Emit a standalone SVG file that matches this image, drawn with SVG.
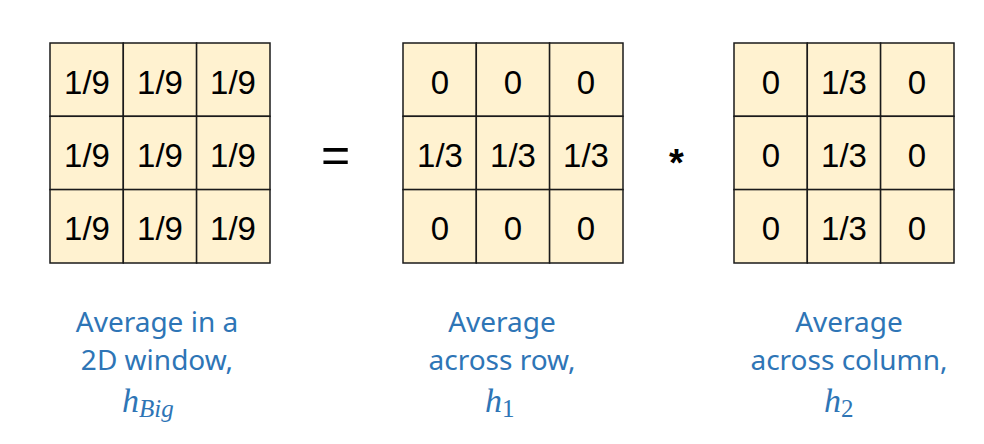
<svg xmlns="http://www.w3.org/2000/svg" width="984" height="444" viewBox="0 0 984 444">
<style>
.cell{fill:#FFF2D0;stroke:#1a1a1a;stroke-width:1.5}
.v{font-family:"Liberation Sans",Arial,sans-serif;font-size:33px;fill:#000;text-anchor:middle}
.lbl{font-family:"Noto Sans","Open Sans",sans-serif;font-size:28px;fill:#2E75B6;text-anchor:middle}
.m{font-family:"Liberation Serif","DejaVu Serif",serif;font-style:italic;font-size:34px;fill:#2E75B6}
.ms{font-family:"Liberation Serif","DejaVu Serif",serif;font-style:italic;font-size:25px;fill:#2E75B6}
.mn{font-family:"Liberation Serif","DejaVu Serif",serif;font-size:25px;fill:#2E75B6}
.op{font-family:"Liberation Sans",Arial,sans-serif;fill:#000;text-anchor:middle}
</style>
<rect width="984" height="444" fill="#fff"/>
<g id="hbig">
<rect class="cell" x="50" y="43" width="73.3" height="73.3"/><rect class="cell" x="123.3" y="43" width="73.3" height="73.3"/><rect class="cell" x="196.6" y="43" width="73.4" height="73.3"/>
<rect class="cell" x="50" y="116.3" width="73.3" height="73.3"/><rect class="cell" x="123.3" y="116.3" width="73.3" height="73.3"/><rect class="cell" x="196.6" y="116.3" width="73.4" height="73.3"/>
<rect class="cell" x="50" y="189.6" width="73.3" height="73.4"/><rect class="cell" x="123.3" y="189.6" width="73.3" height="73.4"/><rect class="cell" x="196.6" y="189.6" width="73.4" height="73.4"/>
<text class="v" x="87" y="94">1/9</text><text class="v" x="160" y="94">1/9</text><text class="v" x="233" y="94">1/9</text>
<text class="v" x="87" y="167">1/9</text><text class="v" x="160" y="167">1/9</text><text class="v" x="233" y="167">1/9</text>
<text class="v" x="87" y="240">1/9</text><text class="v" x="160" y="240">1/9</text><text class="v" x="233" y="240">1/9</text>
</g>
<g id="h1">
<rect class="cell" x="403" y="43" width="73.3" height="73.3"/><rect class="cell" x="476.3" y="43" width="73.3" height="73.3"/><rect class="cell" x="549.6" y="43" width="73.4" height="73.3"/>
<rect class="cell" x="403" y="116.3" width="73.3" height="73.3"/><rect class="cell" x="476.3" y="116.3" width="73.3" height="73.3"/><rect class="cell" x="549.6" y="116.3" width="73.4" height="73.3"/>
<rect class="cell" x="403" y="189.6" width="73.3" height="73.4"/><rect class="cell" x="476.3" y="189.6" width="73.3" height="73.4"/><rect class="cell" x="549.6" y="189.6" width="73.4" height="73.4"/>
<text class="v" x="440" y="94">0</text><text class="v" x="513" y="94">0</text><text class="v" x="586" y="94">0</text>
<text class="v" x="440" y="167">1/3</text><text class="v" x="513" y="167">1/3</text><text class="v" x="586" y="167">1/3</text>
<text class="v" x="440" y="240">0</text><text class="v" x="513" y="240">0</text><text class="v" x="586" y="240">0</text>
</g>
<g id="h2">
<rect class="cell" x="734" y="43" width="73.3" height="73.3"/><rect class="cell" x="807.3" y="43" width="73.3" height="73.3"/><rect class="cell" x="880.6" y="43" width="73.4" height="73.3"/>
<rect class="cell" x="734" y="116.3" width="73.3" height="73.3"/><rect class="cell" x="807.3" y="116.3" width="73.3" height="73.3"/><rect class="cell" x="880.6" y="116.3" width="73.4" height="73.3"/>
<rect class="cell" x="734" y="189.6" width="73.3" height="73.4"/><rect class="cell" x="807.3" y="189.6" width="73.3" height="73.4"/><rect class="cell" x="880.6" y="189.6" width="73.4" height="73.4"/>
<text class="v" x="771" y="94">0</text><text class="v" x="844" y="94">1/3</text><text class="v" x="917" y="94">0</text>
<text class="v" x="771" y="167">0</text><text class="v" x="844" y="167">1/3</text><text class="v" x="917" y="167">0</text>
<text class="v" x="771" y="240">0</text><text class="v" x="844" y="240">1/3</text><text class="v" x="917" y="240">0</text>
</g>
<g id="ops">
<text class="op" x="335.5" y="172" style="font-size:50px">=</text>
<text class="op" x="676.5" y="176" style="font-size:38px;font-weight:bold">*</text>
</g>
<g id="label-big">
<text class="lbl" x="157" y="332">Average in a</text>
<text class="lbl" x="157" y="370">2D window,</text>
<text x="122" y="412"><tspan class="m">h</tspan><tspan class="ms" dy="5">Big</tspan></text>
</g>
<g id="label-h1">
<text class="lbl" x="502" y="332">Average</text>
<text class="lbl" x="502" y="370">across row,</text>
<text x="485" y="412"><tspan class="m">h</tspan><tspan class="mn" dy="5">1</tspan></text>
</g>
<g id="label-h2">
<text class="lbl" x="849" y="332">Average</text>
<text class="lbl" x="849" y="370">across column,</text>
<text x="824" y="412"><tspan class="m">h</tspan><tspan class="mn" dy="5">2</tspan></text>
</g>
</svg>
